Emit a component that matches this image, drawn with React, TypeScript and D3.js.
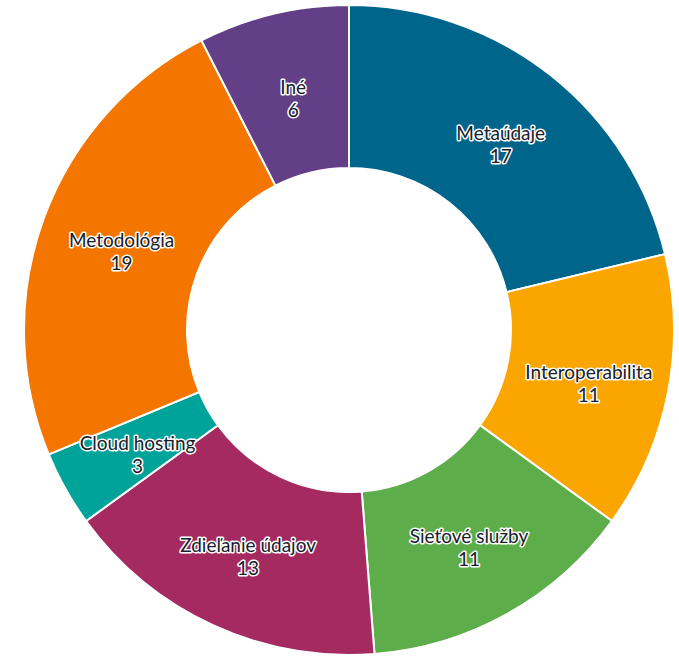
import React from "react";
import * as d3 from "d3";

const categories = ["Metaúdaje", "Interoperabilita", "Sieťové služby", "Zdieľanie údajov", "Cloud hosting", "Metodológia", "Iné"];
const values = [17, 11, 11, 13, 3, 19, 6];
const colors = ["#00658B", "#FBA500", "#5DAD4A", "#A42A5F", "#00A39A", "#F47500", "#633F87"];

const W = 679;
const H = 656;
const cx = 349;
const cy = 330;
const R = 325;
const r = 162;

export default function App() {
  const pie = d3.pie<number>().sort(null).value((d) => d)(values);
  const arc = d3.arc<d3.PieArcDatum<number>>().innerRadius(r).outerRadius(R);
  return (
    <div style={{ position: "absolute", left: 0, top: 0 }}>
      <svg width={W} height={H} style={{ display: "block" }}>
        <rect width={W} height={H} fill="#fff" />
        <g transform={`translate(${cx},${cy})`}>
          {pie.map((p, i) => (
            <path key={i} d={arc(p) || ""} fill={colors[i]} stroke="#fff" strokeWidth={2} />
          ))}
          {pie.map((p, i) => {
            const [x, y] = arc.centroid(p);
            return (
              <text
                key={"t" + i}
                x={x}
                y={y}
                textAnchor="middle"
                fontFamily="Lato, 'Noto Sans', sans-serif"
                fontSize={19}
                fill="#17202a"
                stroke="#fff"
                strokeWidth={3}
                strokeLinejoin="round"
                paintOrder="stroke"
              >
                <tspan x={x + 1} dy={1}>{categories[i]}</tspan>
                <tspan x={x + 1} dy={23}>{values[i]}</tspan>
              </text>
            );
          })}
        </g>
      </svg>
    </div>
  );
}
